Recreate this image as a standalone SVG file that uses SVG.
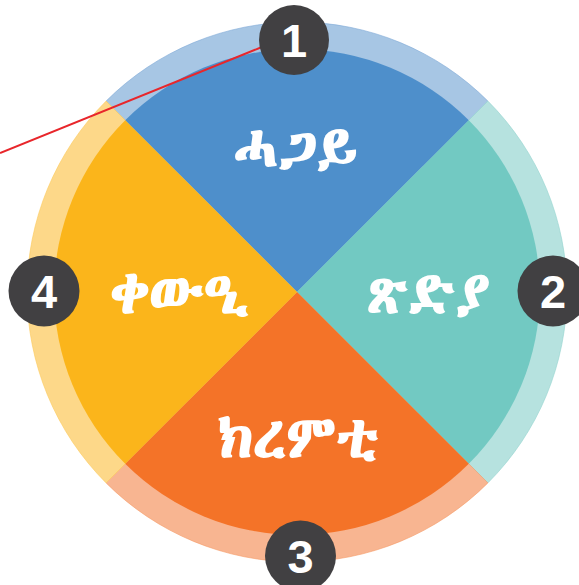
<svg xmlns="http://www.w3.org/2000/svg" width="579" height="585" viewBox="0 0 579 585">
<style>
.lbl{font-family:"Abyssinica SIL","Noto Sans Ethiopic","DejaVu Sans","Noto Sans",serif;font-weight:bold;fill:#ffffff;text-anchor:middle;font-size:58px}
.num{font-family:"Liberation Sans",Arial,sans-serif;font-weight:bold;fill:#ffffff;text-anchor:middle;font-size:47px}
.badge{fill:#414042}
</style>
<rect width="579" height="585" fill="#ffffff"/>
<g id="ring">
<path d="M297,292 L106.1,101.1 A270,270 0 0 1 487.9,101.1 Z" fill="#a7c6e4" stroke="#7fa9d6" stroke-width="0.6"/>
<path d="M297,292 L487.9,101.1 A270,270 0 0 1 487.9,482.9 Z" fill="#b6e2df" stroke="#94d4cf" stroke-width="0.6"/>
<path d="M297,292 L487.9,482.9 A270,270 0 0 1 106.1,482.9 Z" fill="#f8b591" stroke="#f59a66" stroke-width="0.6"/>
<path d="M297,292 L106.1,482.9 A270,270 0 0 1 106.1,101.1 Z" fill="#fdd889" stroke="#fcc95a" stroke-width="0.6"/>
</g>
<g id="summer">
<path d="M297,292 L125.2,120.2 A243,243 0 0 1 468.8,120.2 Z" fill="#4e8fcb"/>
<text class="lbl" x="295" y="166">ሓጋይ</text>
</g>
<g id="spring">
<path d="M297,292 L468.8,120.2 A243,243 0 0 1 468.8,463.8 Z" fill="#72c9c2"/>
<text class="lbl" x="428" y="313">ጽድያ</text>
</g>
<g id="winter">
<path d="M297,292 L468.8,463.8 A243,243 0 0 1 125.2,463.8 Z" fill="#f47328"/>
<text class="lbl" x="298" y="457">ክረምቲ</text>
</g>
<g id="autumn">
<path d="M297,292 L125.2,463.8 A243,243 0 0 1 125.2,120.2 Z" fill="#fbb51b"/>
<text class="lbl" x="180" y="313">ቀውዒ</text>
</g>
<g id="connectors">
<line x1="0" y1="153" x2="262" y2="47" stroke="#e8262b" stroke-width="2"/>
</g>
<g id="badge1"><circle class="badge" cx="294" cy="40" r="35"/><text class="num" x="294" y="57">1</text></g>
<g id="badge2"><circle class="badge" cx="553" cy="291" r="35.5"/><text class="num" x="553" y="308">2</text></g>
<g id="badge3"><circle class="badge" cx="300.5" cy="556" r="35.5"/><text class="num" x="300.5" y="573">3</text></g>
<g id="badge4"><circle class="badge" cx="44" cy="291" r="35.5"/><text class="num" x="44" y="308">4</text></g>
</svg>
